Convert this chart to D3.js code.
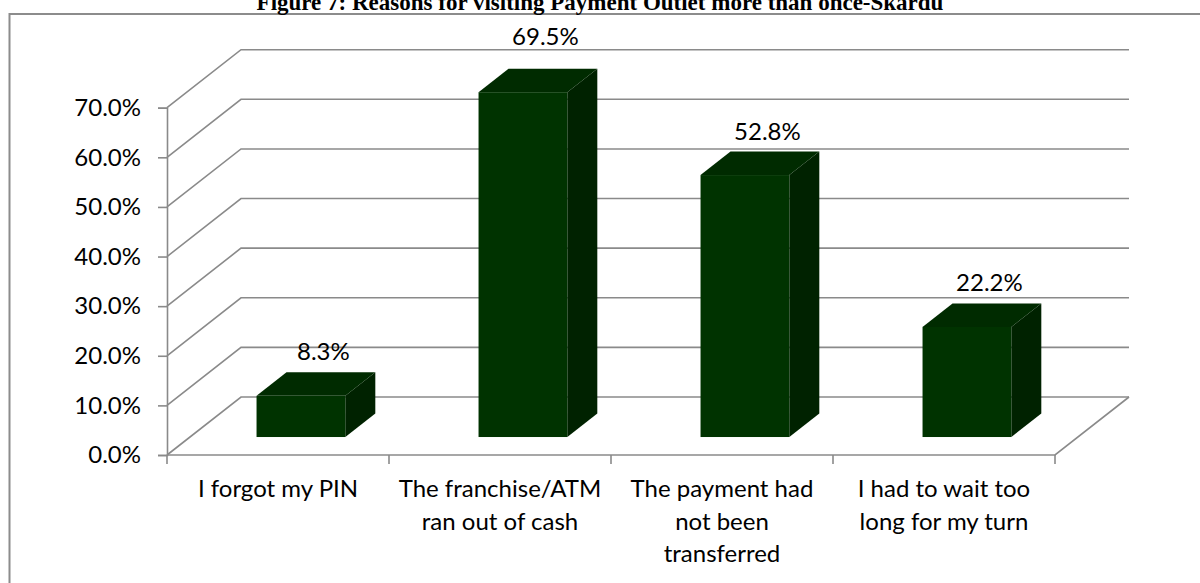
<!DOCTYPE html>
<html>
<head>
<meta charset="utf-8">
<script src="https://cdn.jsdelivr.net/npm/d3@7"></script>
<style>
  html, body { margin: 0; padding: 0; background: #fff; }
  svg { display: block; }
</style>
</head>
<body>
<svg id="chart" width="1200" height="583"></svg>
<script>
// Survey results: reasons for visiting the payment outlet more than once (Skardu)
const categories = [
  "I forgot my PIN",
  "The franchise/ATM ran out of cash",
  "The payment had not been transferred",
  "I had to wait too long for my turn"
];
// Category labels as they wrap under the axis
const categoryLines = [
  ["I forgot my PIN"],
  ["The franchise/ATM", "ran out of cash"],
  ["The payment had", "not been", "transferred"],
  ["I had to wait too", "long for my turn"]
];
const values = [8.3, 69.5, 52.8, 22.2];          // percent
const yTicks = [0, 10, 20, 30, 40, 50, 60, 70];  // percent
const titleText = "Figure 7: Reasons for visiting Payment Outlet more than once-Skardu";

const svg = d3.select("#chart");
const labelFont = "Lato, 'Liberation Sans', sans-serif";
const gridColor = "#8a8a8a";

// Oblique 3-D projection: front plane scales plus a depth offset vector
const x = d3.scaleBand().domain(categories).range([167, 1055]).paddingInner(0).paddingOuter(0);
const y = d3.scaleLinear().domain([0, 70]).range([455, 107.7]);
const depth = { dx: 74, dy: -58 };
const barFront = 0.31, barBack = 0.715;  // depth fractions occupied by bars
const barWidthFrac = 0.4;

// Chart frame
svg.append("rect")
  .attr("x", 9.5).attr("y", 14)
  .attr("width", 1220).attr("height", 600)
  .attr("fill", "none").attr("stroke", "#8c8c8c").attr("stroke-width", 2);

// Title
svg.append("text")
  .attr("x", 600).attr("y", 10)
  .attr("text-anchor", "middle")
  .attr("font-family", "'Liberation Serif', 'Times New Roman', serif")
  .attr("font-weight", "bold")
  .attr("font-size", 23)
  .attr("fill", "#000")
  .text(titleText);

const x0 = x.range()[0], x1 = x.range()[1];
const grid = svg.append("g").attr("fill", "none").attr("stroke", gridColor).attr("stroke-width", 1.6);

// Side wall diagonals and back wall gridlines
yTicks.forEach(t => {
  const yf = y(t);
  grid.append("path")
    .attr("d", d3.line()([[x0, yf], [x0 + depth.dx, yf + depth.dy], [x1 + depth.dx, yf + depth.dy]]));
});

// Floor front edge and right edge
grid.append("path")
  .attr("d", d3.line()([[x0, y(0)], [x1, y(0)], [x1 + depth.dx, y(0) + depth.dy]]));

// Value axis with ticks
const yAxis = d3.axisLeft(y).tickValues(yTicks).tickSize(9).tickPadding(17)
  .tickFormat(d => d3.format(".1%")(d / 100));
const yAxisG = svg.append("g").attr("transform", `translate(${x0},0)`).call(yAxis);
yAxisG.select(".domain").attr("stroke", gridColor).attr("stroke-width", 1.6);
yAxisG.selectAll(".tick line").attr("stroke", gridColor).attr("stroke-width", 1.6);
yAxisG.selectAll(".tick text")
  .attr("font-family", labelFont).attr("font-size", 24).attr("fill", "#000");

// Category boundary ticks below the floor
const bounds = categories.map(c => x(c)).concat([x1]);
svg.append("g").selectAll("line").data(bounds).join("line")
  .attr("x1", d => d).attr("x2", d => d)
  .attr("y1", y(0)).attr("y2", y(0) + 9)
  .attr("stroke", gridColor).attr("stroke-width", 1.6);

// Category labels
const catG = svg.append("g")
  .attr("font-family", labelFont).attr("font-size", 24).attr("fill", "#000")
  .attr("text-anchor", "middle");
categoryLines.forEach((lines, i) => {
  const cx = x(categories[i]) + x.bandwidth() / 2;
  const t = catG.append("text").attr("x", cx).attr("y", 497);
  lines.forEach((ln, j) => {
    t.append("tspan").attr("x", cx).attr("dy", j === 0 ? 0 : 32.5).text(ln);
  });
});

// Bars as oblique boxes
const colors = { front: "#003300", top: "#002b00", side: "#002200" };
const bw = x.bandwidth() * barWidthFrac;
const fdx = depth.dx * barFront, fdy = depth.dy * barFront;
const bdx = depth.dx * (barBack - barFront), bdy = depth.dy * (barBack - barFront);
const wallTop = y(yTicks[yTicks.length - 1]) + depth.dy;  // top edge of the back wall

const bars = svg.append("g").selectAll("g").data(values).join("g");
bars.each(function(v, i) {
  const g = d3.select(this);
  const left = x(categories[i]) + (x.bandwidth() - bw) / 2 + fdx;
  const right = left + bw;
  const bottom = y(0) + fdy;
  const top = y(v) + fdy;
  // right side face
  g.append("path").attr("fill", colors.side)
    .attr("d", d3.line()([[right, bottom], [right + bdx, bottom + bdy], [right + bdx, top + bdy], [right, top]]) + "Z");
  // top face
  g.append("path").attr("fill", colors.top)
    .attr("d", d3.line()([[left, top], [left + bdx, top + bdy], [right + bdx, top + bdy], [right, top]]) + "Z");
  // front face
  g.append("rect").attr("fill", colors.front)
    .attr("x", left).attr("y", top).attr("width", bw).attr("height", bottom - top);
  // value label above the top face; lifted clear of the wall's top edge when they would cross
  let baseline = top + bdy - 12;
  if (baseline > wallTop - 4 && baseline - 18 < wallTop) baseline = wallTop - 5;
  g.append("text")
    .attr("x", (left + right) / 2 + bdx * 0.75)
    .attr("y", baseline)
    .attr("text-anchor", "middle")
    .attr("font-family", labelFont).attr("font-size", 24).attr("fill", "#000")
    .text(d3.format(".1%")(v / 100));
});
</script>
</body>
</html>
